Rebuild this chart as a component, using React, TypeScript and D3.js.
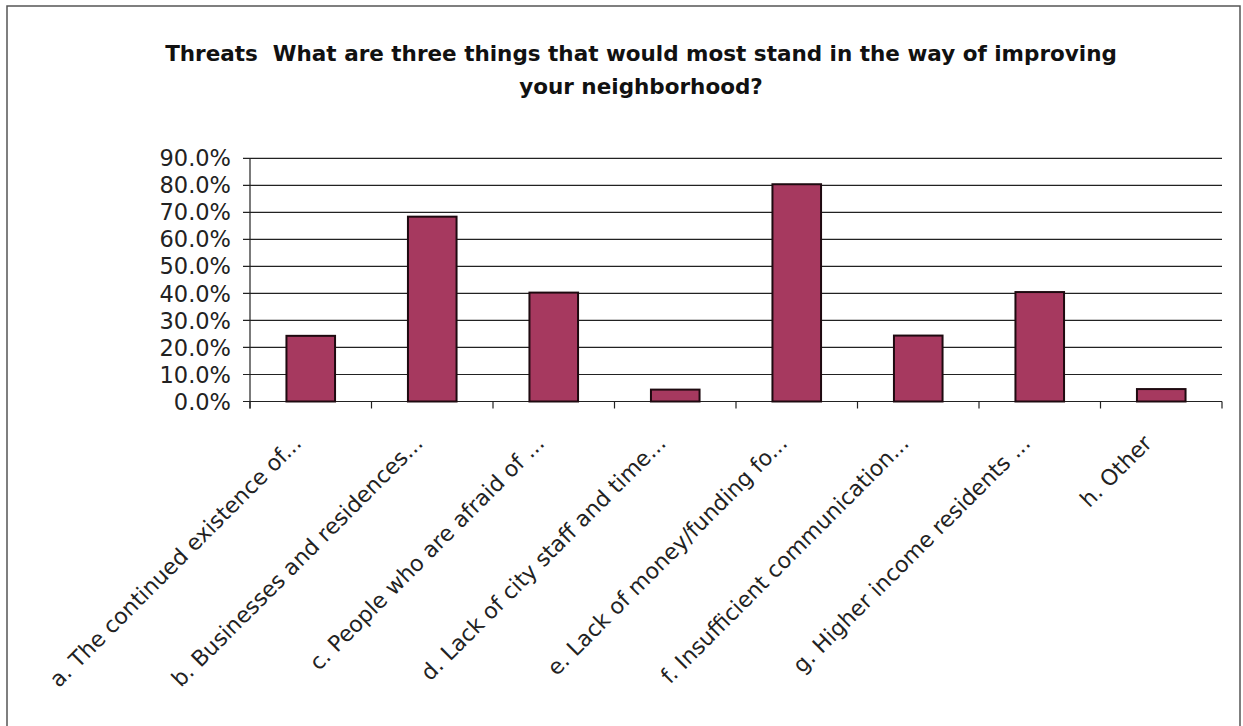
import React from "react";
import * as d3 from "d3";

const titleLines = [
  "Threats  What are three things that would most stand in the way of improving",
  "your neighborhood?",
];
const categories = [
  "a. The continued existence of...",
  "b. Businesses and residences...",
  "c. People who are afraid of ...",
  "d. Lack of city staff and time...",
  "e. Lack of money/funding fo...",
  "f. Insufficient communication...",
  "g. Higher income residents ...",
  "h. Other",
];
const values = [0.243, 0.684, 0.403, 0.044, 0.804, 0.244, 0.405, 0.046];
const yTicks = [0, 0.1, 0.2, 0.3, 0.4, 0.5, 0.6, 0.7, 0.8, 0.9];

const W = 1243;
const H = 726;
const plotLeft = 250;
const plotRight = 1222;
const plotTop = 158.3;
const plotBottom = 401.5;

export default function App() {
  const x = d3
    .scaleBand<string>()
    .domain(categories)
    .range([plotLeft, plotRight])
    .paddingInner(0.6)
    .paddingOuter(0.3);
  const y = d3.scaleLinear().domain([0, 0.9]).range([plotBottom, plotTop]);
  const step = x.step();
  const boundaries = d3.range(categories.length + 1).map((i) => plotLeft + i * step);
  const fmt = d3.format(".1%");
  const font = "'DejaVu Sans', Verdana, sans-serif";

  return (
    <svg
      width={W}
      height={H}
      style={{ position: "absolute", left: 0, top: 0, background: "#fff" }}
    >
      <rect x={0} y={0} width={W} height={H} fill="#fff" />
      <rect x={7} y={6} width={1233} height={740} fill="none" stroke="#555" strokeWidth={1.5} />
      {titleLines.map((t, i) => (
        <text
          key={i}
          x={641}
          y={61 + i * 33}
          textAnchor="middle"
          fontFamily={font}
          fontWeight="bold"
          fontSize={21.5}
          fill="#111"
          style={{ whiteSpace: "pre" }}
        >
          {t}
        </text>
      ))}
      {/* gridlines */}
      {yTicks.map((t) => (
        <line
          key={"g" + t}
          x1={plotLeft - 7}
          x2={plotRight}
          y1={y(t)}
          y2={y(t)}
          stroke="#222"
          strokeWidth={1.2}
        />
      ))}
      {/* y axis */}
      <line x1={plotLeft} x2={plotLeft} y1={plotTop} y2={plotBottom + 7} stroke="#222" strokeWidth={1.2} />
      {yTicks.map((t) => (
        <text
          key={"yl" + t}
          x={231}
          y={y(t)}
          dy="0.36em"
          textAnchor="end"
          fontFamily={font}
          fontSize={22.5}
          fill="#222"
        >
          {fmt(t)}
        </text>
      ))}
      {/* x ticks */}
      {boundaries.map((b, i) => (
        <line key={"xt" + i} x1={b} x2={b} y1={plotBottom} y2={plotBottom + 7} stroke="#222" strokeWidth={1.2} />
      ))}
      {/* bars */}
      {categories.map((c, i) => (
        <rect
          key={c}
          x={x(c)}
          y={y(values[i])}
          width={x.bandwidth()}
          height={plotBottom - y(values[i])}
          fill="#a6395f"
          stroke="#1e0a10"
          strokeWidth={2}
        />
      ))}
      {/* category labels */}
      {categories.map((c) => {
        const cx = (x(c) as number) + x.bandwidth() / 2;
        return (
          <text
            key={"cl" + c}
            transform={`translate(${cx - 8},${plotBottom + 43}) rotate(-45)`}
            textAnchor="end"
            fontFamily={font}
            fontSize={22}
            fill="#222"
          >
            {c}
          </text>
        );
      })}
    </svg>
  );
}
